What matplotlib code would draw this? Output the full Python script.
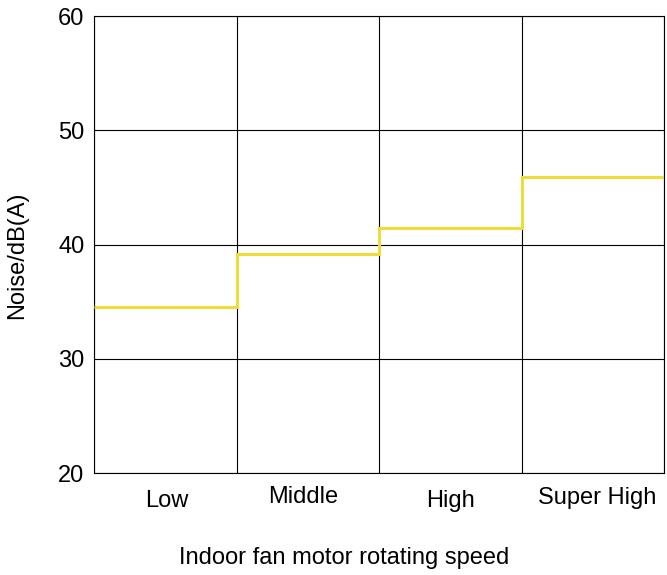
import matplotlib
matplotlib.use("Agg")
import matplotlib.pyplot as plt
from matplotlib.transforms import offset_copy
import numpy as np

plt.rcParams['font.family'] = ['Liberation Sans', 'DejaVu Sans']

speeds = ["Low", "Middle", "High", "Super High"]
noise = [34.55, 39.2, 41.5, 45.9]
# the category labels are a little staggered in the original (pixels)
label_dx = [1, -5, 0, 4.5]
label_dy = [-34, -30, -34, -31]

fig = plt.figure(figsize=(6.67, 5.75), dpi=100)
ax = fig.add_axes([0.141, 0.177, 0.8545, 0.795])

edges = np.arange(len(speeds) + 1)
ax.stairs(noise, edges, baseline=None, color="#EEDC3A", linewidth=2.2, zorder=3)

ax.set_xlim(0, len(speeds))
ax.set_ylim(20, 60)
ax.set_yticks([20, 30, 40, 50, 60])
ax.set_xticks(edges)
ax.set_xticklabels([])
ax.grid(True, color="black", linewidth=0.8)
ax.tick_params(length=0, labelsize=17, pad=7)
for s in ax.spines.values():
    s.set_color("black")
    s.set_linewidth(0.8)

for i, lab in enumerate(speeds):
    tr = offset_copy(ax.get_xaxis_transform(), fig=fig, x=label_dx[i], y=label_dy[i], units="dots")
    ax.text(i + 0.5, 0, lab, transform=tr, ha="center", va="baseline", fontsize=17)

ax.set_ylabel("Noise/dB(A)", fontsize=17)
ax.yaxis.set_label_coords(-0.1158, 0.477)
fig.text(0.516, 0.0191, "Indoor fan motor rotating speed", ha="center", va="baseline", fontsize=17)

fig.savefig("out.png")
